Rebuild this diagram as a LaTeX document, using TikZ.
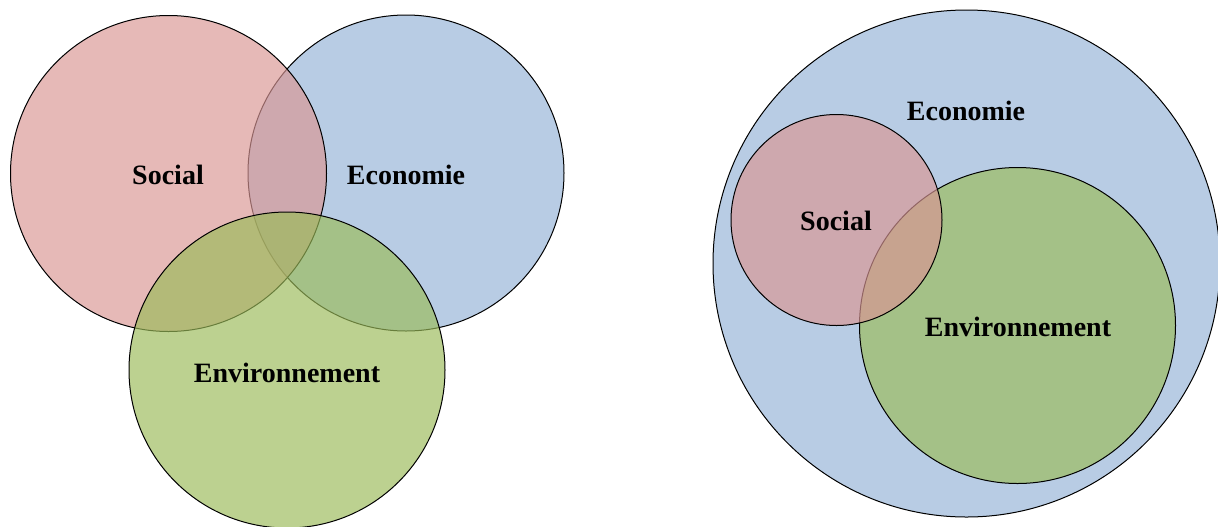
\documentclass[tikz,border=0pt]{standalone}
\usepackage{fontspec}
\setmainfont{Liberation Serif}
\usepackage{xcolor}

\definecolor{socialred}{HTML}{D99694}
\definecolor{ecoblue}{HTML}{95B3D7}
\definecolor{envgreen}{HTML}{9BBB59}

\begin{document}
\begin{tikzpicture}[x=0.75pt, y=-0.75pt]
  \tikzstyle{setcirc} = [draw, circle, line width=0.75pt, fill opacity=0.67,
  inner sep=0pt]
  \tikzstyle{bigset} = [setcirc, minimum size=237pt] % r = 158px
  \tikzstyle{setlabel} = [font=\fontsize{21}{25}\selectfont\bfseries,
  text centered, inner sep=0pt]

  \useasboundingbox (0,0) rectangle (1218,526);

  % three overlapping sets
  \node[bigset, fill=ecoblue] (ecoL) at (406,173) {};
  \node[bigset, fill=socialred] (socL) at (168.5,173.5) {};
  \node[bigset, fill=envgreen] (envL) at (287,370) {};

  \node[setlabel] at (168,175) (socLtxt) {Social};
  \node[setlabel] at (406,175) (ecoLtxt) {Economie};
  \node[setlabel] at (287,373) (envLtxt) {Environnement};

  % nested sets
  \node[setcirc, fill=ecoblue, minimum size=380.25pt] (ecoR) at (966.5,263.5) {};
  \node[bigset, fill=envgreen] (envR) at (1017.5,325.5) {};
  \node[setcirc, fill=socialred, minimum size=158.25pt] (socR) at (836.5,220) {};

  \node[setlabel] at (966,111) (ecoRtxt) {Economie};
  \node[setlabel] at (836,221) (socRtxt) {Social};
  \node[setlabel] at (1018,327) (envRtxt) {Environnement};

\end{tikzpicture}
\end{document}
